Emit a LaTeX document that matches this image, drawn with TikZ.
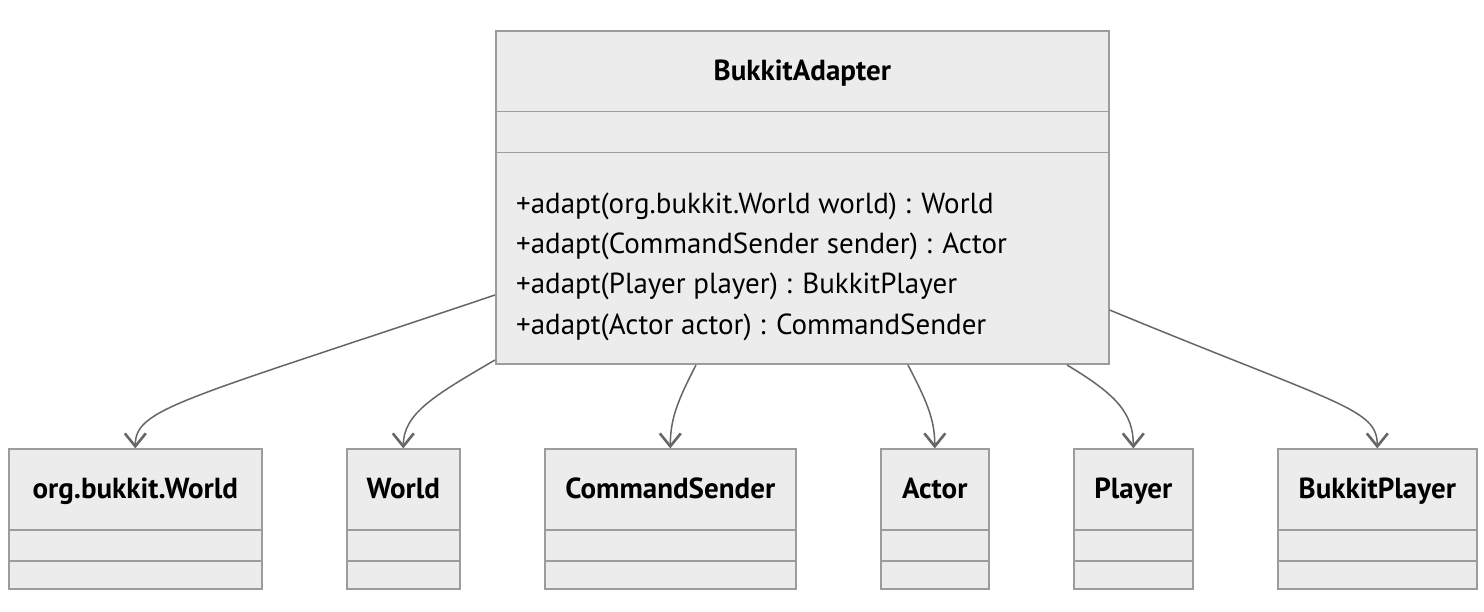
\documentclass[tikz,border=0pt]{standalone}
\usepackage{fontspec}
\setmainfont{PT Sans}
\usetikzlibrary{arrows.meta,positioning}
\definecolor{boxfill}{HTML}{ECECEC}
\definecolor{boxline}{HTML}{9C9C9C}
\definecolor{edgeline}{HTML}{666666}
\tikzset{classbox/.style={draw=boxline, fill=boxfill, line width=1.6pt,
    inner sep=0pt, anchor=south west}}
\tikzset{divider/.style={draw=boxline, line width=1.6pt}}
\tikzset{classtitle/.style={font=\fontsize{29}{34}\selectfont\bfseries, text=black,
    anchor=base, inner sep=0pt}}
\tikzset{member/.style={font=\fontsize{29}{34}\selectfont, text=black, anchor=base west,
    inner sep=0pt}}
\tikzset{dep/.style={draw=edgeline, line width=1.5pt,
    -{Straight Barb[length=13pt, width=21pt, line width=2.6pt]}}}

\begin{document}
\begin{tikzpicture}[x=1pt, y=1pt]
    \useasboundingbox (0,0) rectangle (1484,611);
    % the adapter class
    \node[classbox, minimum width=613pt, minimum height=333pt] (adapter) at (495,246) {};
    \node[classtitle] (adapter-t) at ([yshift=-50]adapter.north) {BukkitAdapter};
    \draw[divider] ([yshift=-81]adapter.north west) -- ([yshift=-81]adapter.north east);
    \draw[divider] ([yshift=-122]adapter.north west) -- ([yshift=-122]adapter.north east);
    \node[member] (m1) at ([xshift=21, yshift=151]adapter.south west)
      {+adapt(org.bukkit.World world) : World};
    \node[member] (m2) at ([xshift=21, yshift=111]adapter.south west)
      {+adapt(CommandSender sender) : Actor};
    \node[member] (m3) at ([xshift=21, yshift=71]adapter.south west)
      {+adapt(Player player) : BukkitPlayer};
    \node[member] (m4) at ([xshift=21, yshift=30]adapter.south west)
      {+adapt(Actor actor) : CommandSender};
    % the classes it maps
    \foreach \n/\l/\w/\t in {bworld/8/253/org.bukkit.World, world/346/113/World,
        sender/544/251/CommandSender, actor/880/108/Actor,
        player/1073/119/Player, bplayer/1277/199/BukkitPlayer} {
      \node[classbox, minimum width=\w pt, minimum height=140pt] (\n) at (\l,21) {};
      \node[classtitle] (\n-t) at ([yshift=-50]\n.north) {\t};
      \draw[divider] ([yshift=60]\n.south west) -- ([yshift=60]\n.south east);
      \draw[divider] ([yshift=29]\n.south west) -- ([yshift=29]\n.south east);
    }
    % dependencies
    \draw[dep] ([yshift=70]adapter.south west) .. controls +(-315,-106) and +(0,40) .. (bworld.north);
    \draw[dep] ([yshift=5]adapter.south west) .. controls +(-60,-35) and +(0,35) .. (world.north);
    \draw[dep] ([xshift=201]adapter.south west) .. controls +(-18,-35) and +(0,30) .. (sender.north);
    \draw[dep] ([xshift=413]adapter.south west) .. controls +(18,-35) and +(0,30) .. (actor.north);
    \draw[dep] ([xshift=572]adapter.south west) .. controls +(50,-30) and +(0,35) .. (player.north);
    \draw[dep] ([yshift=55]adapter.south east) .. controls +(230,-95) and +(0,40) .. (bplayer.north);
  \end{tikzpicture}
\end{document}
